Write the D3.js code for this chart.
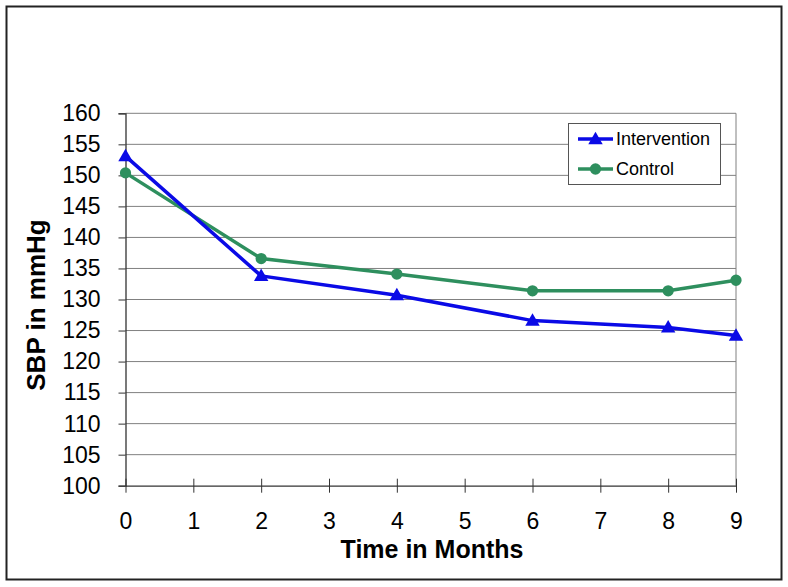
<!DOCTYPE html>
<html><head><meta charset="utf-8">
<script src="https://cdn.jsdelivr.net/npm/d3@7"></script>
<style>body{margin:0;background:#fff}</style>
</head><body>
<svg id="c" width="788" height="587"></svg>
<script>
const months = [0, 2, 4, 6, 8, 9];
const intervention = [153.1, 133.8, 130.7, 126.6, 125.5, 124.2];
const control = [150.4, 136.6, 134.1, 131.4, 131.4, 133.1];
const xTicks = [0,1,2,3,4,5,6,7,8,9];
const yTicks = d3.range(100, 161, 5);
const seriesNames = ["Intervention", "Control"];

const svg = d3.select("#c");
const font = "Arial, 'Liberation Sans', sans-serif";
svg.append("rect").attr("x",6.5).attr("y",6.5).attr("width",775).attr("height",573)
  .attr("fill","#fff").attr("stroke","#222").attr("stroke-width",2);

const x = d3.scaleLinear().domain([0,9]).range([125.5,736]);
const y = d3.scaleLinear().domain([100,160]).range([485.7,113.3]);

// gridlines
svg.append("g").selectAll("line").data(yTicks.filter(d=>d>100)).join("line")
  .attr("x1",x(0)).attr("x2",x(9)).attr("y1",d=>y(d)).attr("y2",d=>y(d))
  .attr("stroke","#808080").attr("stroke-width",1);
// right border
svg.append("line").attr("x1",x(9)).attr("x2",x(9)).attr("y1",y(160)).attr("y2",y(100))
  .attr("stroke","#808080").attr("stroke-width",1);

// y axis
const ya = svg.append("g").attr("transform",`translate(${x(0)},0)`)
  .call(d3.axisLeft(y).tickValues(yTicks).tickSize(7).tickPadding(18));
ya.select(".domain").attr("stroke","#333").attr("stroke-width",1.3);
ya.selectAll(".tick line").attr("stroke","#333");
ya.selectAll("text").attr("font-family",font).attr("font-size",23).attr("fill","#000");

// x axis
const xa = svg.append("g").attr("transform",`translate(0,${y(100)})`)
  .call(d3.axisBottom(x).tickValues(xTicks).tickSize(0).tickPadding(27));
xa.select(".domain").attr("stroke","#333").attr("stroke-width",1.3);
xa.selectAll(".tick line").attr("y1",-7).attr("y2",7).attr("stroke","#333");
xa.selectAll("text").attr("font-family",font).attr("font-size",23).attr("fill","#000");

// titles
svg.append("text").attr("x",432).attr("y",558).attr("text-anchor","middle")
  .attr("font-family",font).attr("font-weight","bold").attr("font-size",25).text("Time in Months");
svg.append("text").attr("transform","translate(45,305) rotate(-90)").attr("text-anchor","middle")
  .attr("font-family",font).attr("font-weight","bold").attr("font-size",26).text("SBP in mmHg");

const blue = "#0a0ae6", green = "#2e8f5e";
const line = d3.line().x((d,i)=>x(months[i])).y(d=>y(d));
svg.append("path").datum(control).attr("d",line).attr("fill","none").attr("stroke",green).attr("stroke-width",3.5);
svg.append("path").datum(intervention).attr("d",line).attr("fill","none").attr("stroke",blue).attr("stroke-width",3.5);

const tri = d3.symbol().type(d3.symbolTriangle).size(90);
const circ = d3.symbol().type(d3.symbolCircle).size(100);
svg.append("g").selectAll("path").data(control).join("path")
  .attr("d",circ).attr("transform",(d,i)=>`translate(${x(months[i])},${y(d)})`).attr("fill",green);
svg.append("g").selectAll("path").data(intervention).join("path")
  .attr("d",tri).attr("transform",(d,i)=>`translate(${x(months[i])},${y(d)+1})`).attr("fill",blue);

// legend
const lg = svg.append("g");
lg.append("rect").attr("x",568.5).attr("y",123.5).attr("width",152).attr("height",61)
  .attr("fill","#fff").attr("stroke","#555").attr("stroke-width",1);
const items = [{n:seriesNames[0],c:blue,s:tri,yy:139},{n:seriesNames[1],c:green,s:circ,yy:169}];
items.forEach(it=>{
  lg.append("line").attr("x1",578).attr("x2",613).attr("y1",it.yy).attr("y2",it.yy).attr("stroke",it.c).attr("stroke-width",3.5);
  lg.append("path").attr("d",it.s).attr("transform",`translate(595.5,${it.yy + (it.s===tri?1:0)})`).attr("fill",it.c);
  lg.append("text").attr("x",616).attr("y",it.yy+6).attr("font-family",font).attr("font-size",18).text(it.n);
});
</script>
</body></html>
